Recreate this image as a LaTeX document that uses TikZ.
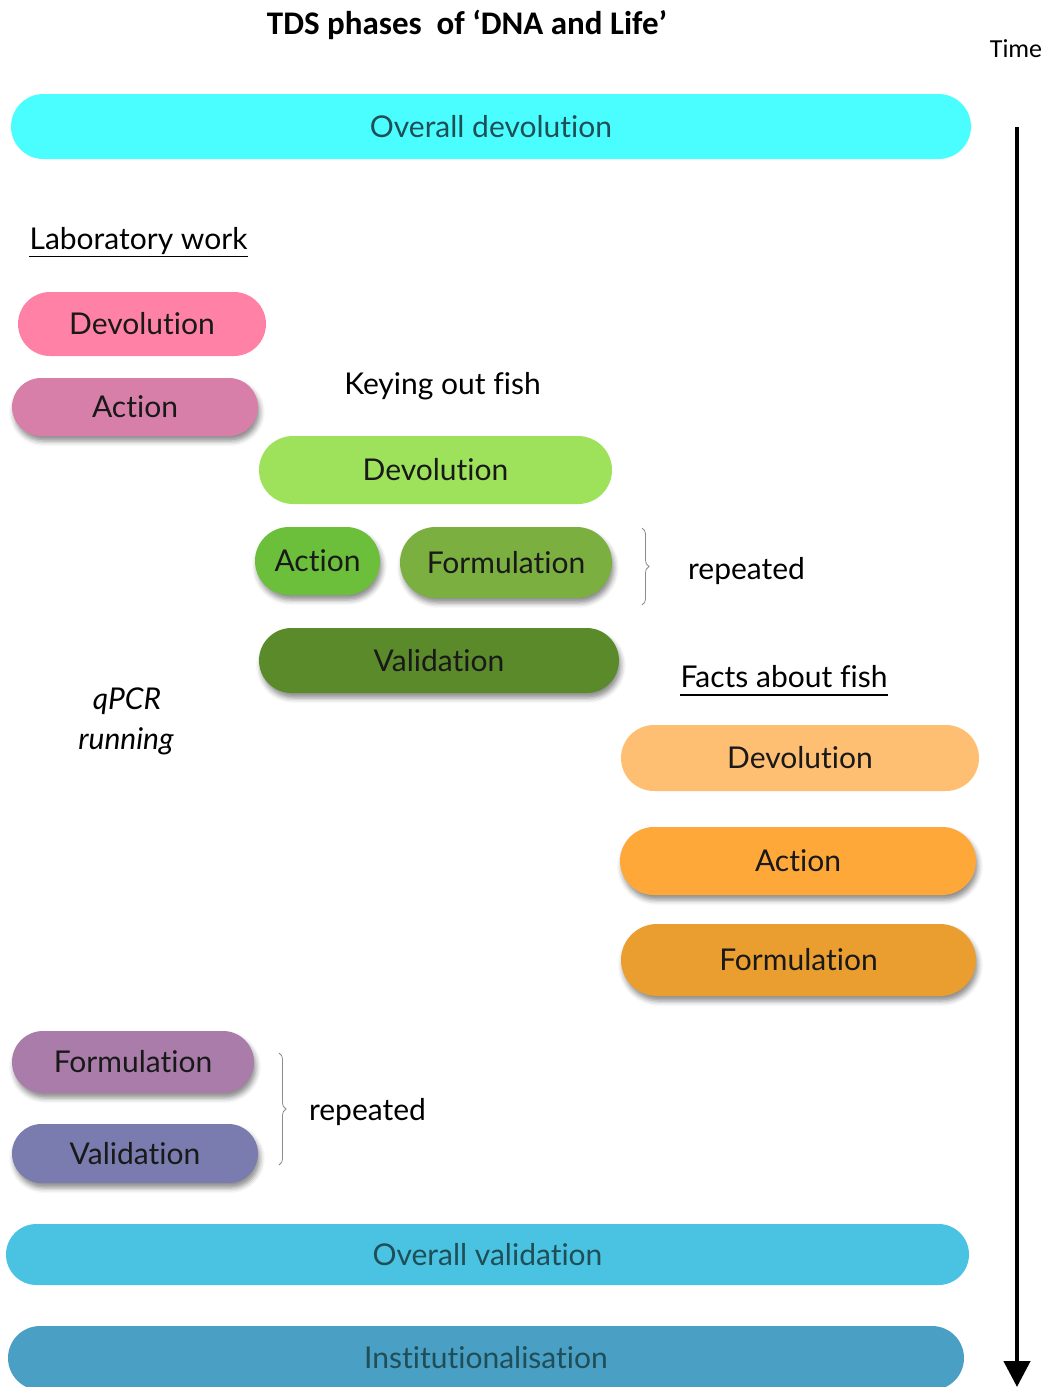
\documentclass[tikz,border=0pt]{standalone}
\usepackage{fontspec}
\setmainfont[Ligatures=NoCommon]{Lato}
\newfontfamily\titlefont{Carlito}
\usetikzlibrary{shapes.misc,shadows.blur,arrows.meta,decorations.pathreplacing}

\definecolor{cOverDev}{HTML}{4AFEFF}
\definecolor{cLabDev}{HTML}{FF82A6}
\definecolor{cLabAct}{HTML}{D77FA8}
\definecolor{cKeyDev}{HTML}{9DE25A}
\definecolor{cKeyAct}{HTML}{6BBF3A}
\definecolor{cKeyForm}{HTML}{7BAF3F}
\definecolor{cKeyVal}{HTML}{5A8A2A}
\definecolor{cFishDev}{HTML}{FEBF72}
\definecolor{cFishAct}{HTML}{FEA83A}
\definecolor{cFishForm}{HTML}{EA9E30}
\definecolor{cLabForm}{HTML}{A97CA9}
\definecolor{cLabVal}{HTML}{7A7BAE}
\definecolor{cOverVal}{HTML}{4AC3E2}
\definecolor{cInst}{HTML}{4A9FC5}
\definecolor{cOverText}{HTML}{1F4E56}

\tikzset{
  pill/.style={rounded rectangle, draw=none, inner sep=0pt, text=black!90,
    font=\fontsize{30}{34}\selectfont},
  raised/.style={blur shadow={shadow xshift=2pt, shadow yshift=-5pt,
    shadow blur radius=5pt, shadow opacity=45}},
  overall/.style={pill, text=cOverText},
  caption/.style={inner sep=0pt, font=\fontsize{30}{34}\selectfont},
  bracket/.style={draw=black!45, line width=0.8pt,
    decorate, decoration={brace, amplitude=7pt}},
}

\begin{document}
\begin{tikzpicture}[x=1pt,y=-1pt]
\useasboundingbox (0,0) rectangle (1048,1387);

% headings
\node[inner sep=0pt, font=\titlefont\bfseries\fontsize{33}{36}\selectfont] (title) at (467,25)
  {TDS phases\ \ of ‘DNA and Life’};
\node[inner sep=0pt, font=\titlefont\fontsize{26}{30}\selectfont] (time) at (1016,49) {Time};

% time axis
\coordinate (tstart) at (1017,127);
\coordinate (tend) at (1017,1387);
\draw[line width=4.5pt, -{Triangle[width=26pt,length=26pt]}] (tstart) -- (tend);

% overall phases
\node[overall, minimum width=960pt, minimum height=65pt, fill=cOverDev] (odev) at (491,126.5) {Overall devolution};
\node[overall, minimum width=963pt, minimum height=61pt, fill=cOverVal] (oval) at (487.5,1254.5) {Overall validation};
\node[overall, minimum width=956pt, minimum height=64pt, fill=cInst] (inst) at (486,1358) {Institutionalisation};

% laboratory work
\node[caption] (lab) at (138.5,241) {Laboratory work};
\draw[line width=1.2pt] ([yshift=-7pt]lab.base west) -- ([yshift=-7pt]lab.base east);
\node[pill, minimum width=248pt, minimum height=64pt, fill=cLabDev] (ldev) at (142,324) {Devolution};
\node[pill, raised, minimum width=246pt, minimum height=58pt, fill=cLabAct] (lact) at (135,407) {Action};
\node[caption, font=\itshape\fontsize{30}{34}\selectfont] (qpcr) at (127,701) {qPCR};
\node[caption, font=\itshape\fontsize{30}{34}\selectfont] (run) at (126,741) {running};
\node[pill, raised, minimum width=242pt, minimum height=62pt, fill=cLabForm] (lform) at (133,1062) {Formulation};
\node[pill, raised, minimum width=246pt, minimum height=59pt, fill=cLabVal] (lval) at (135,1153.5) {Validation};
\coordinate (lbtop) at (279,1053);
\coordinate (lbbot) at (279,1165);
\draw[bracket] (lbtop) -- (lbbot);
\node[caption] (lrep) at (367.5,1112) {repeated};

% keying out fish
\node[caption] (key) at (442.5,386) {Keying out fish};
\node[pill, minimum width=353pt, minimum height=68pt, fill=cKeyDev] (kdev) at (435.5,470) {Devolution};
\node[pill, raised, minimum width=125pt, minimum height=68pt, fill=cKeyAct] (kact) at (317.5,561) {Action};
\node[pill, raised, minimum width=212pt, minimum height=71pt, fill=cKeyForm] (kform) at (506,562.5) {Formulation};
\node[pill, raised, minimum width=360pt, minimum height=65pt, fill=cKeyVal] (kval) at (439,660.5) {Validation};
\coordinate (kbtop) at (642,528);
\coordinate (kbbot) at (642,605);
\draw[bracket] (kbtop) -- (kbbot);
\node[caption] (krep) at (746.5,571) {repeated};

% facts about fish
\node[caption] (facts) at (784,677) {Facts about fish};
\draw[line width=1.2pt] ([yshift=-7pt]facts.base west) -- ([yshift=-7pt]facts.base east);
\node[pill, minimum width=358pt, minimum height=66pt, fill=cFishDev] (fdev) at (800,758) {Devolution};
\node[pill, raised, minimum width=356pt, minimum height=68pt, fill=cFishAct] (fact) at (798,861) {Action};
\node[pill, raised, minimum width=355pt, minimum height=72pt, fill=cFishForm] (fform) at (798.5,960) {Formulation};
\end{tikzpicture}
\end{document}
